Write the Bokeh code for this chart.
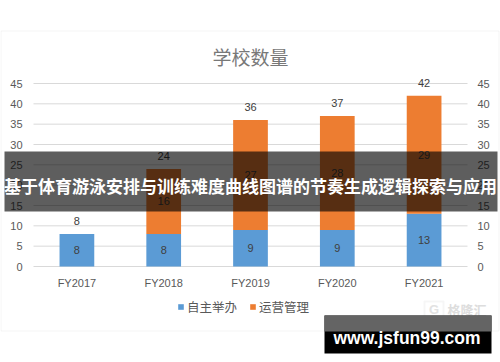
from bokeh.plotting import figure
from bokeh.models import (FactorRange, Range1d, BoxAnnotation, Label, Legend, LegendItem,
                          ColumnDataSource)
from bokeh.core.properties import value
from bokeh.embed import file_html
from bokeh.resources import INLINE

categories = ["FY2017", "FY2018", "FY2019", "FY2020", "FY2021"]
self_run = [8, 8, 9, 9, 13]
managed = [0, 16, 27, 28, 29]
series_names = ["自主举办", "运营管理"]
y_ticks = [0, 5, 10, 15, 20, 25, 30, 35, 40, 45]
title_text = "学校数量"
banner_text = "基于体育游泳安排与训练难度曲线图谱的节奏生成逻辑探索与应用"
watermark_text = "www.jsfun99.com"
logo_text = "格隆汇"

BLUE = "#5B9BD5"
ORANGE = "#ED7D31"
TXT = "#595959"
LBL = "#404040"
CJK = "Noto Sans CJK SC"
LAT = "Liberation Sans"

# layout (pixels)
W, H = 500, 362
PLOT_L, PLOT_R, PLOT_T, PLOT_B = 33, 467, 83, 266
Y_MAX = y_ticks[-1]
ppu = (PLOT_B - PLOT_T) / Y_MAX
y_start = -(H - PLOT_B) / ppu
y_end = PLOT_B / ppu
n = len(categories)
cat_px = (PLOT_R - PLOT_L) / n
half_pad = PLOT_L / cat_px
pad_pct = 2 * half_pad / n

totals = [a + b for a, b in zip(self_run, managed)]
src = ColumnDataSource(dict(
    cat=categories,
    a=self_run,
    b=managed,
    a_mid=[a / 2 for a in self_run],
    b_mid=[a + b / 2 for a, b in zip(self_run, managed)],
    a_lbl=[str(a) for a in self_run],
    b_lbl=[str(b) if b > 0 else "" for b in managed],
    total=totals,
    t_lbl=[str(t) for t in totals],
    base=[0] * n,
))
tick_src = ColumnDataSource(dict(
    y=y_ticks, lbl=[str(t) for t in y_ticks], x0=[0] * len(y_ticks), x1=[n] * len(y_ticks)))

p = figure(width=W, height=H,
           x_range=FactorRange(*categories, range_padding=pad_pct, range_padding_units="percent"),
           y_range=Range1d(y_start, y_end), title=None,
           x_axis_location=None, y_axis_location=None,
           output_backend="svg", toolbar_location=None, min_border=0)
p.outline_line_color = None
p.background_fill_color = "white"
p.border_fill_color = "white"
p.xgrid.visible = False
p.ygrid.visible = False

# gridlines
p.segment(x0="x0", y0="y", x1="x1", y1="y", source=tick_src, line_color="#D9D9D9", line_width=1)

# bars
rs = p.vbar_stack(["a", "b"], x="cat", width=0.4, fill_color=[BLUE, ORANGE],
                  line_color=None, source=src)

# data labels
common = dict(text_align="center", text_baseline="middle", text_font_size="11px",
              text_color=LBL, text_font=value(LAT))
p.text(x="cat", y="a_mid", text="a_lbl", source=src, **common)
p.text(x="cat", y="b_mid", text="b_lbl", source=src, **common)
p.text(x="cat", y="total", text="t_lbl", source=src, y_offset=-13, **common)

# axis tick labels
tick_style = dict(text_baseline="middle", text_font_size="11px", text_color=TXT,
                  text_font=value(LAT))
p.text(x="x0", y="y", text="lbl", source=tick_src, text_align="right", x_offset=-11, **tick_style)
p.text(x="x1", y="y", text="lbl", source=tick_src, text_align="left", x_offset=10, **tick_style)
p.text(x="cat", y="base", text="cat", source=src, text_align="center", y_offset=16, **tick_style)

# legend
legend = Legend(items=[LegendItem(label=series_names[0], renderers=[rs[0]]),
                       LegendItem(label=series_names[1], renderers=[rs[1]])],
                orientation="horizontal", location=(177, 46),
                glyph_width=7, glyph_height=7, label_height=12, label_standoff=3, spacing=12,
                label_text_font_size="12.5px", label_text_color=TXT, label_text_font=CJK,
                border_line_alpha=0, background_fill_alpha=0, margin=0, padding=0)
p.add_layout(legend)

def sbox(l, r, t, b, **kw):
    return BoxAnnotation(left=l, right=r, top=H - t, bottom=H - b,
                         left_units="screen", right_units="screen",
                         top_units="screen", bottom_units="screen", **kw)

def slabel(x, y, text, **kw):
    return Label(x=x, y=H - y, x_units="screen", y_units="screen", text=text,
                 text_baseline="middle", **kw)

# chart border
p.add_layout(sbox(0.5, 498.5, 30.5, 330.5, fill_alpha=0, line_color="#D9D9D9",
                  line_width=1, level="underlay"))

# title
p.add_layout(slabel(250, 56, title_text, text_align="center", text_font_size="19px",
                    text_color="#787878", text_font=CJK))

# logo
p.add_layout(sbox(424, 443, 301, 318, fill_alpha=0, line_color="#E2E2E2", line_width=2))
p.add_layout(slabel(433.5, 309, "G", text_align="center", text_font_size="13px",
                    text_color="#E2E2E2", text_font=LAT, text_font_style="bold"))
p.add_layout(slabel(447, 309, logo_text, text_align="left", text_font_size="13px",
                    text_color="#DDDDDD", text_font=CJK, text_font_style="bold"))

# banner
p.add_layout(sbox(4, 497, 151, 211, fill_color="black", fill_alpha=0.63, line_alpha=0,
                  level="overlay"))
p.add_layout(slabel(250, 185, banner_text, text_align="center", text_font_size="17px",
                    text_color="white", text_font=CJK, text_font_style="bold", level="overlay"))

# watermark
p.add_layout(sbox(324, 491, 315, 353, fill_color="black", fill_alpha=1, line_alpha=0,
                  level="overlay"))
p.add_layout(sbox(324, 491, 315, 331, fill_color="#646464", fill_alpha=1, line_alpha=0,
                  level="overlay"))
p.add_layout(slabel(406.5, 337, watermark_text, text_align="center", text_font_size="17.5px",
                    text_color="white", text_font=LAT, text_font_style="bold", level="overlay"))

open("out.html", "w").write(file_html(p, INLINE))
